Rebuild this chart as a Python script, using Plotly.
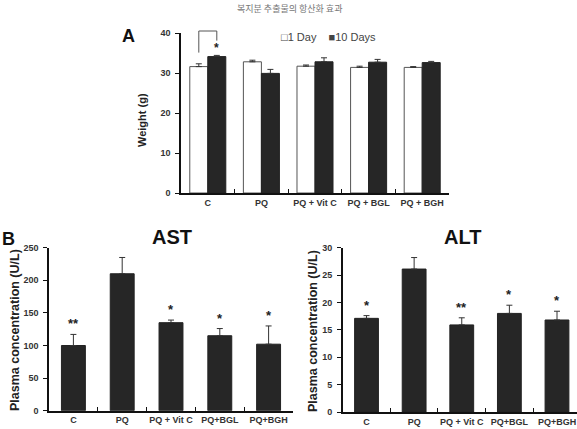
import plotly.graph_objects as go

W, H = 577, 429

# ---------------- data ----------------
groups_a = ["C", "PQ", "PQ + Vit C", "PQ + BGL", "PQ + BGH"]
day1 = [31.6, 32.8, 31.7, 31.4, 31.4]
day1_err = [0.7, 0.4, 0.3, 0.3, 0.2]
day10 = [34.1, 29.9, 32.8, 32.7, 32.6]
day10_err = [0.3, 1.0, 1.0, 0.7, 0.3]
day10_sig = ["*", "", "", "", ""]

groups_b = ["C", "PQ", "PQ + Vit C", "PQ+BGL", "PQ+BGH"]
ast = [100, 210, 135, 115, 102]
ast_err = [17, 25, 4, 11, 28]
ast_sig = ["**", "", "*", "*", "*"]
alt = [17.1, 26.1, 15.9, 18.0, 16.8]
alt_err = [0.5, 2.1, 1.3, 1.5, 1.6]
alt_sig = ["*", "", "**", "*", "*"]

FONT = "Liberation Sans, Arial, sans-serif"
DARK = "#262626"

def px(x):
    return x / W

def py(y):
    return 1 - y / H

# domains (pixel based)
A_X = [px(181), px(449)]
A_Y = [py(193), py(33)]
B1_X = [px(49), px(293)]
B1_Y = [py(410.7), py(247.7)]
B2_X = [px(342.7), 1.0]
B2_Y = [py(412), py(247.7)]

fig = go.Figure()

bw = 0.336
err_style = dict(type="data", symmetric=False, color="#333", thickness=1, width=3)

fig.add_trace(go.Bar(
    x=groups_a, y=day1, width=bw, offset=-bw, name="1 Day",
    marker=dict(color="white", line=dict(color="#555", width=1)),
    error_y=dict(array=day1_err, arrayminus=[0] * len(day1), **err_style),
    xaxis="x", yaxis="y", showlegend=False))
fig.add_trace(go.Bar(
    x=groups_a, y=day10, width=bw, offset=0, name="10 Days",
    marker=dict(color=DARK, line=dict(color="#222", width=1)),
    error_y=dict(array=day10_err, arrayminus=[0] * len(day10), **err_style),
    xaxis="x", yaxis="y", showlegend=False))

fig.add_trace(go.Bar(
    x=groups_b, y=ast, width=0.49,
    marker=dict(color=DARK, line=dict(color="#222", width=1)),
    error_y=dict(array=ast_err, arrayminus=[0] * len(ast), **err_style),
    xaxis="x2", yaxis="y2", showlegend=False))
fig.add_trace(go.Bar(
    x=groups_b, y=alt, width=0.5,
    marker=dict(color=DARK, line=dict(color="#222", width=1)),
    error_y=dict(array=alt_err, arrayminus=[0] * len(alt), **err_style),
    xaxis="x3", yaxis="y3", showlegend=False))

tickfont = dict(family=FONT, size=9, color="#333", weight="bold")

def xaxis(domain, anchor, rng):
    return dict(domain=domain, anchor=anchor, type="category", range=rng,
                showline=True, linecolor="#111", linewidth=1.5,
                ticks="inside", tickson="boundaries", ticklen=4, tickcolor="#111",
                tickwidth=1.2, tickfont=tickfont, showgrid=False, zeroline=False,
                tickangle=0, automargin=False, fixedrange=True)

def yaxis(domain, anchor, rng, dtick):
    return dict(domain=domain, anchor=anchor, range=rng, dtick=dtick,
                showline=True, linecolor="#111", linewidth=1.5,
                ticks="outside", ticklen=4, tickcolor="#111", tickwidth=1.2,
                tickfont=tickfont, showgrid=False, zeroline=False, ticklabelstandoff=3,
                automargin=False)

fig.update_layout(
    width=W, height=H, margin=dict(l=0, r=0, t=0, b=0, autoexpand=False),
    paper_bgcolor="white", plot_bgcolor="white",
    barmode="overlay",
    xaxis=xaxis(A_X, "y", [-0.5, 4.5]),
    yaxis=yaxis(A_Y, "x", [0, 40], 10),
    xaxis2=xaxis(B1_X, "y2", [-0.5, 4.5]),
    yaxis2=yaxis(B1_Y, "x2", [0, 250], 50),
    xaxis3=xaxis(B2_X, "y3", [-0.5, 4.42]),
    yaxis3=yaxis(B2_Y, "x3", [0, 30], 5),
)

ann = []
C = dict(xanchor="center", yanchor="middle", showarrow=False)
# significance stars
for i, s in enumerate(day10_sig):
    if s:
        ann.append(dict(x=i + bw / 2, y=day10[i] + day10_err[i], xref="x", yref="y",
                        text=s, showarrow=False, xanchor="center", yanchor="bottom", yshift=-2,
                        font=dict(family=FONT, size=12, color="#222", weight="bold")))
for vals, errs, sig, xr, yr in [(ast, ast_err, ast_sig, "x2", "y2"),
                                 (alt, alt_err, alt_sig, "x3", "y3")]:
    for i, s in enumerate(sig):
        if s:
            ann.append(dict(x=i, y=vals[i] + errs[i], xref=xr, yref=yr, text=s,
                            showarrow=False, xanchor="center", yanchor="bottom", yshift=1,
                            font=dict(family=FONT, size=13, color="#222", weight="bold")))

# bracket above C in panel A (paper y computed from axis domain)
def ya_paper(v):
    return A_Y[0] + v / 40 * (A_Y[1] - A_Y[0])

left_y = ya_paper(day1[0] + day1_err[0] + 2.8)
right_y = ya_paper(day10[0] + day10_err[0] + 3.7)
top_y = ya_paper(40.5)
fig.add_shape(type="path", xref="x", yref="paper",
              path=f"M {-bw/2},{left_y} L {-bw/2},{top_y} L {bw/2},{top_y} L {bw/2},{right_y}",
              line=dict(color="#555", width=1))

# legend (as text)
ann.append(dict(x=px(279), y=py(37), xref="paper", yref="paper", xanchor="left", yanchor="middle",
                text="□1 Day&nbsp;&nbsp;&nbsp;&nbsp;■10 Days", showarrow=False,
                font=dict(family="Liberation Sans, DejaVu Sans", size=11, color="#444")))

# panel letters and titles
ann.append(dict(x=px(128), y=py(36), xref="paper", yref="paper", text="A", **C,
                font=dict(family=FONT, size=18, color="#111", weight="bold")))
ann.append(dict(x=0, y=py(239), xref="paper", yref="paper", xanchor="left", yanchor="middle",
                text="B", showarrow=False,
                font=dict(family=FONT, size=18, color="#111", weight="bold")))
ann.append(dict(x=px(172), y=py(237), xref="paper", yref="paper", text="AST", **C,
                font=dict(family=FONT, size=20, color="#111", weight="bold")))
ann.append(dict(x=px(462), y=py(237), xref="paper", yref="paper", text="ALT", **C,
                font=dict(family=FONT, size=20, color="#111", weight="bold")))

# axis titles
ann.append(dict(x=px(142), y=py(120), xref="paper", yref="paper", text="Weight (g)",
                textangle=-90, **C,
                font=dict(family=FONT, size=11, color="#222", weight="bold")))
ann.append(dict(x=px(15), y=py(330), xref="paper", yref="paper", text="Plasma concentration (U/L)",
                textangle=-90, **C,
                font=dict(family=FONT, size=12.5, color="#222", weight="bold")))
ann.append(dict(x=px(313), y=py(331), xref="paper", yref="paper", text="Plasma concentration (U/L)",
                textangle=-90, **C,
                font=dict(family=FONT, size=12.5, color="#222", weight="bold")))

# header text (cropped in the reference)
ann.append(dict(x=px(289), y=1, xref="paper", yref="paper", xanchor="center", yanchor="top",
                text="복지분 추출물의 항산화 효과",
                showarrow=False, font=dict(family="Noto Sans CJK KR", size=9, color="#777")))

fig.update_layout(annotations=ann)
fig.write_html("out.html")
